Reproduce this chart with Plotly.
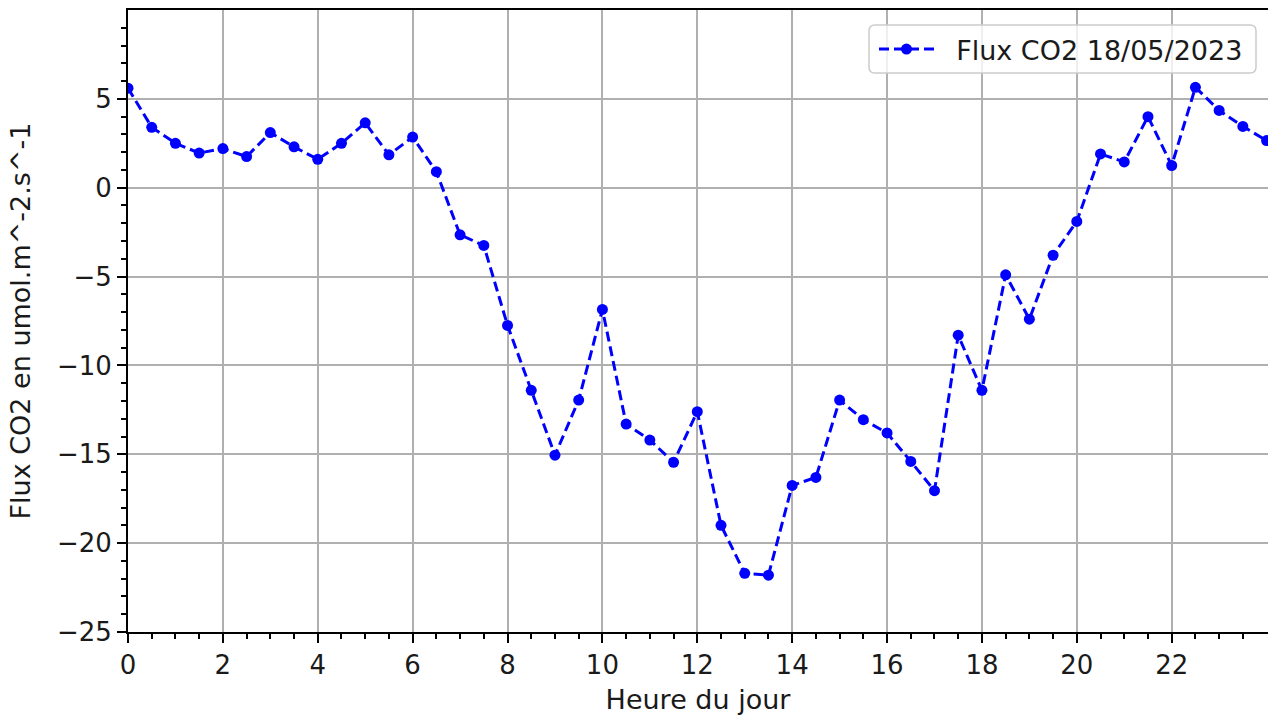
import plotly.graph_objects as go

# Half-hourly CO2 flux measured on 18/05/2023
heures = [0.0, 0.5, 1.0, 1.5, 2.0, 2.5, 3.0, 3.5, 4.0, 4.5, 5.0, 5.5,
          6.0, 6.5, 7.0, 7.5, 8.0, 8.5, 9.0, 9.5, 10.0, 10.5, 11.0, 11.5,
          12.0, 12.5, 13.0, 13.5, 14.0, 14.5, 15.0, 15.5, 16.0, 16.5, 17.0, 17.5,
          18.0, 18.5, 19.0, 19.5, 20.0, 20.5, 21.0, 21.5, 22.0, 22.5, 23.0, 23.5, 24.0]
flux = [5.6, 3.4, 2.5, 1.95, 2.2, 1.75, 3.1, 2.3, 1.6, 2.5, 3.65, 1.85,
        2.85, 0.9, -2.65, -3.25, -7.75, -11.4, -15.05, -11.95, -6.85, -13.3, -14.2, -15.45,
        -12.6, -19.0, -21.7, -21.8, -16.75, -16.3, -11.95, -13.05, -13.8, -15.4, -17.05, -8.3,
        -11.4, -4.9, -7.4, -3.8, -1.9, 1.9, 1.45, 4.0, 1.25, 5.65, 4.35, 3.45, 2.65]

x_ticks = [0, 2, 4, 6, 8, 10, 12, 14, 16, 18, 20, 22]
x_minor = [h + 0.5 * k for h in x_ticks for k in (1, 2, 3)]
y_ticks = [-25, -20, -15, -10, -5, 0, 5]
y_minor = [v for v in range(-24, 10) if v % 5 != 0]

W, H = 1268, 715
ML, MR, MT, MB = 128, 0, 10, 83
FONT = "DejaVu Sans"
FS = 26
FS_LBL = 27
TXT = "#1a1a1a"

fig = go.Figure()
fig.add_trace(go.Scatter(
    x=heures, y=flux, mode="lines+markers",
    name="\u00a0\u00a0Flux CO2 18/05/2023",
    line=dict(color="#0000ff", width=3, dash="10px,5px"),
    marker=dict(color="#0000ff", size=11),
))

axis_common = dict(
    showline=True, linecolor="black", linewidth=2,
    ticks="outside", ticklen=9, tickwidth=2, tickcolor="black",
    showgrid=True, gridcolor="#b0b0b0", gridwidth=2,
    zeroline=False,
    tickfont=dict(family=FONT, size=FS, color=TXT),
)

fig.update_xaxes(
    **axis_common,
    range=[0, 24.03], tickmode="array", tickvals=x_ticks,
    ticktext=[str(v) for v in x_ticks], mirror=True,
    minor=dict(tickmode="array", tickvals=x_minor, ticks="outside",
               ticklen=5, tickwidth=2, tickcolor="black", showgrid=False),
    title=dict(text="Heure du jour", font=dict(family=FONT, size=FS_LBL, color=TXT),
               standoff=12),
)
fig.update_yaxes(
    **axis_common,
    range=[-25, 10.0], tickmode="array", tickvals=y_ticks,
    minor=dict(tickmode="array", tickvals=y_minor, ticks="outside",
               ticklen=5, tickwidth=2, tickcolor="black", showgrid=False),
    title=dict(text="Flux CO2 en umol.m^-2.s^-1",
               font=dict(family=FONT, size=FS_LBL, color=TXT), standoff=18),
)

# Rounded legend frame (pixel geometry converted to paper units)
pw, ph = W - ML - MR, H - MT - MB
def px(xp):
    return (xp - ML) / pw
def py(yp):
    return 1 - (yp - MT) / ph
x0, x1, y0, y1, r = 869, 1256, 25, 73, 6
path = (f"M {px(x0 + r)},{py(y0)} L {px(x1 - r)},{py(y0)} "
        f"Q {px(x1)},{py(y0)} {px(x1)},{py(y0 + r)} "
        f"L {px(x1)},{py(y1 - r)} Q {px(x1)},{py(y1)} {px(x1 - r)},{py(y1)} "
        f"L {px(x0 + r)},{py(y1)} Q {px(x0)},{py(y1)} {px(x0)},{py(y1 - r)} "
        f"L {px(x0)},{py(y0 + r)} Q {px(x0)},{py(y0)} {px(x0 + r)},{py(y0)} Z")
fig.add_shape(type="path", path=path, xref="paper", yref="paper",
              fillcolor="rgba(255,255,255,0.8)", line=dict(color="#cccccc", width=1.5),
              layer="above")

fig.update_layout(
    width=W, height=H,
    margin=dict(l=ML, r=MR, t=MT, b=MB),
    plot_bgcolor="white", paper_bgcolor="white",
    font=dict(family=FONT, size=FS, color=TXT),
    showlegend=True,
    legend=dict(
        x=px(874), y=py(25), xanchor="left", yanchor="top",
        bgcolor="rgba(0,0,0,0)", borderwidth=0,
        font=dict(family=FONT, size=FS_LBL, color=TXT),
        itemwidth=55,
    ),
)

fig.write_html("out.html")
